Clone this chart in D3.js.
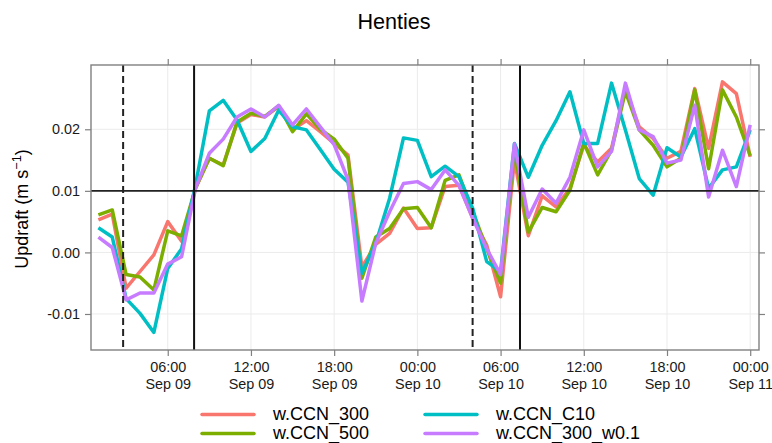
<!DOCTYPE html>
<html>
<head>
<meta charset="utf-8">
<script src="https://cdn.jsdelivr.net/npm/d3@7"></script>
<style>
  body { margin: 0; background: #fff; }
  svg { font-family: "Liberation Sans", Arial, sans-serif; }
</style>
</head>
<body>
<svg id="chart"></svg>
<script>
const width  = 772
const height = 443

// hourly values, 01:00 Sep 09 .. 00:00 Sep 11
const startTime = new Date(2016, 8, 9, 1, 0)
const ccn300 = [0.0053, 0.0062, -0.0058, -0.0031, -0.0004, 0.0050, 0.0018, 0.0104, 0.0153, 0.0142,
  0.0210, 0.0224, 0.0220, 0.0237, 0.0199, 0.0214, 0.0196, 0.0177, 0.0158, -0.0024,
  0.0013, 0.0031, 0.0072, 0.0039, 0.0040, 0.0107, 0.0109, 0.0055, 0.0012, -0.0072,
  0.0150, 0.0027, 0.0092, 0.0074, 0.0104, 0.0174, 0.0147, 0.0169, 0.0266, 0.0204,
  0.0185, 0.0153, 0.0164, 0.0266, 0.0169, 0.0277, 0.0258, 0.0155]
const ccn500 = [0.0061, 0.0069, -0.0036, -0.0040, -0.0061, 0.0035, 0.0027, 0.0104, 0.0153, 0.0141,
  0.0212, 0.0226, 0.0221, 0.0238, 0.0196, 0.0225, 0.0200, 0.0184, 0.0153, -0.0042,
  0.0025, 0.0039, 0.0071, 0.0073, 0.0040, 0.0117, 0.0126, 0.0066, 0.0006, -0.0050,
  0.0166, 0.0033, 0.0073, 0.0066, 0.0101, 0.0178, 0.0126, 0.0166, 0.0261, 0.0199,
  0.0174, 0.0139, 0.0153, 0.0264, 0.0136, 0.0264, 0.0220, 0.0157]
const ccnC10 = [0.0040, 0.0025, -0.0075, -0.0099, -0.0130, -0.0026, 0.0006, 0.0109, 0.0230, 0.0247,
  0.0215, 0.0164, 0.0185, 0.0231, 0.0204, 0.0199, 0.0167, 0.0135, 0.0114, -0.0034,
  0.0015, 0.0088, 0.0186, 0.0182, 0.0123, 0.0140, 0.0123, 0.0071, -0.0015, -0.0031,
  0.0177, 0.0122, 0.0174, 0.0214, 0.0261, 0.0177, 0.0177, 0.0275, 0.0199, 0.0120,
  0.0093, 0.0170, 0.0155, 0.0201, 0.0104, 0.0134, 0.0139, 0.0199]
const ccn300w = [0.0025, 0.0008, -0.0077, -0.0066, -0.0066, -0.0019, -0.0007, 0.0104, 0.0161, 0.0184,
  0.0220, 0.0233, 0.0220, 0.0239, 0.0207, 0.0233, 0.0204, 0.0175, 0.0118, -0.0079,
  0.0015, 0.0066, 0.0112, 0.0115, 0.0102, 0.0134, 0.0109, 0.0055, 0.0006, -0.0036,
  0.0176, 0.0057, 0.0103, 0.0080, 0.0122, 0.0199, 0.0139, 0.0164, 0.0275, 0.0199,
  0.0188, 0.0145, 0.0150, 0.0239, 0.0090, 0.0166, 0.0107, 0.0207]

const seriesNames  = ["w.CCN_300", "w.CCN_500", "w.CCN_C10", "w.CCN_300_w0.1"]
const seriesValues = [ccn300, ccn500, ccnC10, ccn300w]
const seriesColors = ["#F8766D", "#7CAE00", "#00BFC4", "#C77CFF"]

// reference lines
const dashedTimes = [new Date(2016, 8, 9, 2, 47), new Date(2016, 8, 10, 3, 59)]
const solidTimes  = [new Date(2016, 8, 9, 7, 54), new Date(2016, 8, 10, 7, 24)]
const hLineValue  = 0.01

const yTicks = [-0.01, 0.00, 0.01, 0.02]
const xTicks = d3.range(8).map(i => new Date(2016, 8, 9, 6 + i * 6, 0))

const panel = { left: 91, right: 759, top: 65, bottom: 350 }

const x = d3.scaleTime()
    .domain([new Date(2016, 8, 9, 0, 28), new Date(2016, 8, 11, 0, 38)])
    .range([panel.left, panel.right])
const y = d3.scaleLinear()
    .domain([-0.01585, 0.03044])
    .range([panel.bottom, panel.top])

const timeOf = i => new Date(startTime.getTime() + i * 3600 * 1000)

let svg = d3.select("#chart")
    .attr("width", width)
    .attr("height", height)

// title
svg.append("text")
    .attr("x", 394).attr("y", 29)
    .attr("text-anchor", "middle")
    .style("font-size", "21.6px")
    .text("Henties")

// grid
svg.append("g").selectAll("line")
    .data(xTicks).enter().append("line")
    .attr("x1", d => x(d)).attr("x2", d => x(d))
    .attr("y1", panel.top).attr("y2", panel.bottom)
    .style("stroke", "#ebebeb")
svg.append("g").selectAll("line")
    .data(yTicks).enter().append("line")
    .attr("x1", panel.left).attr("x2", panel.right)
    .attr("y1", d => y(d)).attr("y2", d => y(d))
    .style("stroke", "#ebebeb")

// series
const line = d3.line()
    .x((d, i) => x(timeOf(i)))
    .y(d => y(d))

svg.append("g").selectAll("path")
    .data(seriesValues).enter().append("path")
    .attr("d", d => line(d))
    .attr("fill", "none")
    .style("stroke", (d, i) => seriesColors[i])
    .style("stroke-width", 3.5)
    .style("stroke-linejoin", "round")

// reference lines
svg.append("line")
    .attr("x1", panel.left).attr("x2", panel.right)
    .attr("y1", y(hLineValue)).attr("y2", y(hLineValue))
    .style("stroke", "#222").style("stroke-width", 1.8)
svg.append("g").selectAll("line")
    .data(solidTimes).enter().append("line")
    .attr("x1", d => x(d)).attr("x2", d => x(d))
    .attr("y1", panel.top).attr("y2", panel.bottom)
    .style("stroke", "#111").style("stroke-width", 2)
svg.append("g").selectAll("line")
    .data(dashedTimes).enter().append("line")
    .attr("x1", d => x(d)).attr("x2", d => x(d))
    .attr("y1", panel.top).attr("y2", panel.bottom)
    .style("stroke", "#222").style("stroke-width", 2)
    .style("stroke-dasharray", "7,4")

// axes, ticks on all four sides
const axisColor = "#808080"
const styleAxis = g => {
    g.select(".domain").remove()
    g.selectAll(".tick line").style("stroke", axisColor).style("stroke-width", 1.2)
    g.selectAll("text").style("font-size", "14.4px").style("fill", "#1a1a1a")
}

svg.append("g")
    .attr("transform", `translate(0,${panel.bottom})`)
    .call(d3.axisBottom(x).tickValues(xTicks).tickSize(6).tickFormat(""))
    .call(styleAxis)
    .call(g => g.selectAll(".tick").append("text")
        .attr("text-anchor", "middle")
        .style("font-size", "14.4px").style("fill", "#1a1a1a")
        .each(function (d) {
            d3.select(this).append("tspan").attr("x", 0).attr("y", 22).text(d3.timeFormat("%H:%M")(d))
            d3.select(this).append("tspan").attr("x", 0).attr("y", 39).text(d3.timeFormat("%b %d")(d))
        }))
svg.append("g")
    .attr("transform", `translate(0,${panel.top})`)
    .call(d3.axisTop(x).tickValues(xTicks).tickSize(6).tickFormat(""))
    .call(styleAxis)
svg.append("g")
    .attr("transform", `translate(${panel.left},0)`)
    .call(d3.axisLeft(y).tickValues(yTicks).tickSize(6).tickPadding(5)
        .tickFormat(d => d3.format(".2f")(d).replace("\u2212", "-")))
    .call(styleAxis)
svg.append("g")
    .attr("transform", `translate(${panel.right},0)`)
    .call(d3.axisRight(y).tickValues(yTicks).tickSize(6).tickFormat(""))
    .call(styleAxis)

// panel border
svg.append("rect")
    .attr("x", panel.left).attr("y", panel.top)
    .attr("width", panel.right - panel.left).attr("height", panel.bottom - panel.top)
    .attr("fill", "none")
    .style("stroke", axisColor).style("stroke-width", 1.4)

// y label
const ylab = svg.append("text")
    .attr("transform", "translate(28,209) rotate(-90)")
    .attr("text-anchor", "middle")
    .style("font-size", "18px")
ylab.append("tspan").text("Updraft (m s")
ylab.append("tspan").attr("dy", -7).style("font-size", "12.6px").text("\u22121")
ylab.append("tspan").attr("dy", 7).text(")")

// legend, filled column by column
const legend = svg.append("g").selectAll("g")
    .data(seriesNames).enter().append("g")
    .attr("transform", (d, i) => `translate(${i < 2 ? 202 : 425},${i % 2 === 0 ? 414.5 : 433.5})`)
legend.append("line")
    .attr("x1", 0).attr("x2", 52)
    .style("stroke", (d, i) => seriesColors[i])
    .style("stroke-width", 3.5)
    .style("stroke-linecap", "round")
legend.append("text")
    .attr("x", 71).attr("dy", "0.3em")
    .style("font-size", "18px")
    .text(d => d)
</script>
</body>
</html>
